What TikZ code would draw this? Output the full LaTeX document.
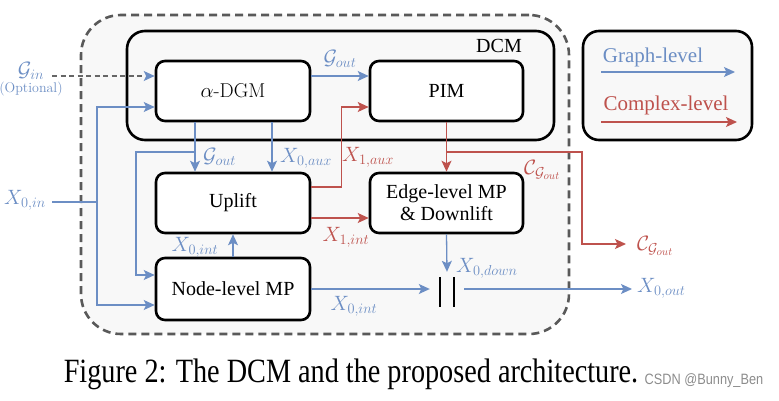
\documentclass[tikz,border=0pt]{standalone}
\usepackage{fontspec}
\newfontfamily\tnr{Liberation Serif}
\newfontfamily\wsans{Liberation Sans}
\usetikzlibrary{arrows.meta,calc}
\definecolor{gblue}{RGB}{108,142,196}
\definecolor{cred}{RGB}{190,82,77}
\definecolor{bggray}{RGB}{248,248,248}
\begin{document}
\begin{tikzpicture}[x=1pt,y=-1pt,
  blk/.style={draw=black,line width=2.6pt,rounded corners=9pt,fill=white,inner sep=0pt,align=center,
    font=\tnr\fontsize{20}{22}\selectfont,minimum width=154pt,minimum height=60pt},
  tip/.style={-{Stealth[length=11pt,width=10pt,inset=2.5pt]}},
  gl/.style={draw=gblue,line width=1.3pt},
  rl/.style={draw=cred,line width=1.3pt},
  ga/.style={gl,tip},
  ra/.style={rl,tip},
  glab/.style={text=gblue,font=\fontsize{21}{24}\selectfont,inner sep=1pt},
  rlab/.style={text=cred,font=\fontsize{21}{24}\selectfont,inner sep=1pt},
  leglab/.style={font=\tnr\fontsize{21}{24}\selectfont,inner sep=0pt}
]
\useasboundingbox (0,0) rectangle (779,401);

% outer dashed region
\node[draw=black!65,dash pattern=on 8pt off 5pt,line width=2.6pt,rounded corners=40pt,fill=bggray,
  minimum width=488pt,minimum height=319pt,inner sep=0pt] (outer) at (325,174.5) {};
% DCM box
\node[draw=black,line width=2.6pt,rounded corners=18pt,minimum width=427pt,minimum height=109pt,inner sep=0pt] (dcm) at (340.5,85.5) {};
\node[font=\tnr\fontsize{20}{24}\selectfont,inner sep=0pt] (dcml) at (499,46) {DCM};
% legend
\node[draw=black,line width=2.6pt,rounded corners=16pt,fill=bggray,minimum width=169pt,minimum height=109pt,inner sep=0pt] (leg) at (667.5,85.5) {};
\node[leglab,text=gblue] (lgt) at (653,57) {Graph-level};
\node[leglab,text=cred] (lrt) at (666,105) {Complex-level};
\coordinate (lg1) at (601,72); \coordinate (lg2) at (735,72);
\coordinate (lr1) at (601,122); \coordinate (lr2) at (737,122);
\draw[ga] (lg1) -- (lg2);
\draw[ra] (lr1) -- (lr2);

% blocks
\node[blk] (dgm) at (233,91) {\rmfamily $\alpha$-DGM};
\node[blk,minimum width=153pt] (pim) at (446.5,91) {PIM};
\node[blk] (upl) at (233,203) {Uplift};
\node[blk,minimum width=153pt] (edge) at (446.5,203) {Edge-level MP\\\& Downlift};
\node[blk,minimum height=62pt] (nmp) at (233,289) {Node-level MP};
% concatenation
\node[minimum width=34pt,minimum height=34pt,inner sep=0pt] (cat) at (447,289) {};
\draw[line width=1.5pt] ([xshift=-7pt,yshift=-5pt]cat.north) -- ([xshift=-7pt,yshift=-1pt]cat.south);
\draw[line width=1.5pt] ([xshift=7pt,yshift=-5pt]cat.north) -- ([xshift=7pt,yshift=-1pt]cat.south);

% G_in (optional)
\coordinate (gin) at (52,76);
\node[glab] (ginl) at (31,71) {$\mathcal{G}_{in}$};
\node[text=gblue,font=\fontsize{14}{16}\selectfont,inner sep=0pt] (optl) at (31,89) {(Optional)};
\draw[draw=black!60,dash pattern=on 5pt off 3.5pt,line width=1.3pt,
  -{Stealth[length=11pt,width=10pt,inset=2.5pt,color=gblue]}] (gin) -- (gin -| dgm.west);

% X_0,in
\node[glab] (xinl) at (25,200) {$X_{0,in}$};
\coordinate (xin) at (52,202);
\coordinate (j1) at (97,202);
\draw[gl] (xin) -- (j1);
\draw[ga] (j1) |- ([yshift=-16pt]dgm.west);
\draw[ga] (j1) |- ([yshift=-16pt]nmp.west);

% alpha-DGM -> PIM
\draw[ga] ([yshift=15pt]dgm.east) -- ([yshift=15pt]pim.west);
\node[glab] (g1) at (340,59) {$\mathcal{G}_{out}$};

% G_out down
\coordinate (b1) at (195,152);
\coordinate (b2) at (136,152);
\draw[ga] ([xshift=-38pt]dgm.south) -- ([xshift=-38pt]upl.north);
\draw[ga] (b1) -- (b2) |- ([yshift=14pt]nmp.west);
\node[glab,anchor=west] (g2) at (202,157) {$\mathcal{G}_{out}$};

% X_0,aux
\draw[ga] ([xshift=39pt]dgm.south) -- ([xshift=39pt]upl.north);
\node[glab,anchor=west] (x0aux) at (279,158) {$X_{0,aux}$};

% X_1,aux (red)
\draw[ra] ([yshift=16pt]upl.east) -- ++(30,0) |- ([yshift=-16pt]pim.west);
\node[rlab,anchor=west] (x1aux) at (341,157) {$X_{1,aux}$};

% X_1,int (red)
\draw[ra] ([yshift=-15pt]upl.east) -- ([yshift=-15pt]edge.west);
\node[rlab] (x1int) at (346,237) {$X_{1,int}$};

% PIM -> Edge, and C_G_out
\coordinate (c1) at (447,152);
\coordinate (c2) at (582,152);
\coordinate (cout) at (626,244);
\draw[ra] (pim.south) -- (edge.north);
\draw[ra] (c1) -- (c2) |- (cout);
\node[rlab,anchor=west] (cin) at (523,170) {$\mathcal{C}_{\mathcal{G}_{out}}$};
\node[rlab,anchor=west] (coutl) at (636,246) {$\mathcal{C}_{\mathcal{G}_{out}}$};

% Node-level MP -> Uplift
\draw[ga] (nmp.north) -- (upl.south);
\node[glab] (x0int1) at (195,247) {$X_{0,int}$};

% Edge -> concat
\draw[ga] (edge.south) -- (cat.north);
\node[glab,anchor=west] (x0down) at (455,268) {$X_{0,down}$};

% Node-level MP -> concat
\draw[ga] (nmp.east) -- (cat.west);
\node[glab] (x0int2) at (354,306) {$X_{0,int}$};

% concat -> output
\coordinate (xout) at (632,289);
\draw[ga] (cat.east) -- (xout);
\node[glab,anchor=west] (xoutl) at (636,288) {$X_{0,out}$};

% caption and watermark
\node[font=\tnr\fontsize{34}{40}\selectfont,inner sep=0pt] (cap) at (351,374) {\scalebox{0.83}[1]{Figure 2: The DCM and the proposed architecture.}};
\node[font=\wsans\fontsize{15}{18}\selectfont,text=black!45,inner sep=0pt] (wm) at (704,381) {\scalebox{0.85}[1]{CSDN @Bunny\_Ben}};
\end{tikzpicture}
\end{document}
